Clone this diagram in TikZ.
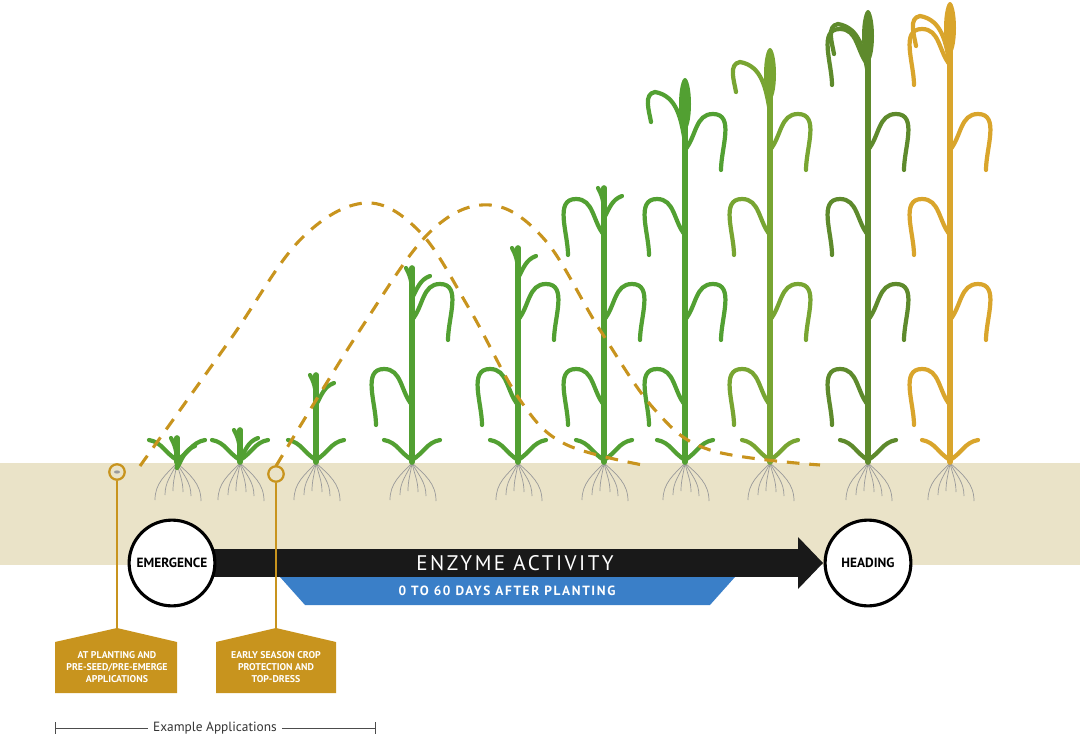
\documentclass[tikz,border=0pt]{standalone}
\usepackage{fontspec}
\setmainfont{PT Sans}
\newfontfamily\spacedfont[LetterSpace=12]{PT Sans}
\usetikzlibrary{calc}
\definecolor{soil}{HTML}{EAE3C8}
\definecolor{gold}{HTML}{C8941E}
\definecolor{wheatgold}{HTML}{D9A52C}
\definecolor{leafgreen}{HTML}{52A032}
\definecolor{lightgreen}{HTML}{78A532}
\definecolor{olive}{HTML}{5E8A2C}
\definecolor{actblue}{HTML}{3A7FC8}
\definecolor{rootgray}{HTML}{9A9A9A}
\tikzset{
  stage/.style={circle,draw=black,line width=2.2pt,fill=white,minimum size=61pt,inner sep=0pt,font=\bfseries\fontsize{9.5}{11}\selectfont},
  tag/.style={draw=gold,line width=1.6pt},
  tagtext/.style={text=white,font=\bfseries\fontsize{7}{8.3}\selectfont,align=center},
  curve/.style={gold,line width=2.2pt,dash pattern=on 9pt off 7pt},
  leaf/.style={line width=3pt,line cap=round}
}
% plant: x, top, colour, head (1/0)
\newcommand\wheat[4]{%
  \foreach \r in {-22,-12,-4,6,14,24}
    \draw[rootgray,line width=0.5pt] ({#1},463) to[out={-90+\r*2},in=90] ({#1+\r},{489+abs(\r)/2});
  \draw[#3,line width=4pt,line cap=round] (#1,462) -- (#1,#2);
  \draw[#3,leaf] (#1,460) to[out=150,in=-10] ({#1-28},440) (#1,460) to[out=30,in=190] ({#1+28},440);
  \foreach \yy [count=\i] in {405,320,...,60}{
    \pgfmathparse{\yy>#2+45 ? 1 : 0}
    \ifnum\pgfmathresult=1
      \pgfmathsetmacro\s{mod(\i,2)==0 ? 1 : -1}
      \draw[#3,leaf] (#1,\yy) to[out={90-\s*40},in={90+\s*90}] ({#1+\s*28},{\yy-36}) to[out={-90+\s*90},in=90] ({#1+\s*36},{\yy+20});
    \fi}
  \ifnum#4=1
    \fill[#3] (#1,{#2+22}) ellipse (6 and 26);
    \draw[#3,leaf] (#1,{#2+60}) to[out=100,in=-10] ({#1-30},{#2+10}) to[out=190,in=100] ({#1-34},{#2+40});
  \else
    \draw[#3,leaf] (#1,{#2+30}) to[out=90,in=-60] ({#1-6},#2) (#1,{#2+30}) to[out=60,in=200] ({#1+18},{#2+8});
  \fi}
\begin{document}
\begin{tikzpicture}[x=0.025cm,y=-0.025cm]
\useasboundingbox (0,0) rectangle (1080,736);
% soil band
\fill[soil] (0,463) rectangle (1080,565);
% plants
\wheat{177}{438}{leafgreen}{0}
\wheat{240}{430}{leafgreen}{0}
\wheat{316}{375}{leafgreen}{0}
\wheat{412}{268}{leafgreen}{0}
\wheat{518}{248}{leafgreen}{0}
\wheat{604}{188}{leafgreen}{0}
\wheat{685}{82}{leafgreen}{1}
\wheat{770}{52}{lightgreen}{1}
\wheat{868}{14}{olive}{1}
\wheat{950}{6}{wheatgold}{1}
% enzyme activity curves
\draw[curve] plot[smooth,tension=0.6] coordinates {(140,466) (230,340) (300,240) (365,203) (420,232) (470,310) (520,400) (565,444) (648,466)};
\draw[curve] plot[smooth,tension=0.6] coordinates {(276,466) (360,330) (430,232) (490,205) (545,240) (600,330) (655,410) (710,450) (820,465)};
% activity arrow
\fill[actblue] (280,577) -- (735,577) -- (710,605) -- (305,605) -- cycle;
\node[text=white,font=\bfseries\fontsize{9.5}{10}\selectfont\spacedfont] (days) at (507,591) {0 TO 60 DAYS AFTER PLANTING};
\fill[black!90] (200,549) rectangle (800,577);
\fill[black!90] (798,537) -- (823,563) -- (798,589) -- cycle;
\node[text=white,font=\fontsize{15}{16}\selectfont\spacedfont] (enzyme) at (515,563) {ENZYME ACTIVITY};
\node[stage] (emergence) at (172,563) {EMERGENCE};
\node[stage] (heading) at (868,563) {HEADING};
% application tags
\node[circle,tag,fill=soil,minimum size=11pt,inner sep=0pt] (plant) at (117,472) {};
\fill[rootgray] (117,472) ellipse (3 and 1.6);
\node[circle,tag,fill=soil,minimum size=11pt,inner sep=0pt] (early) at (276,474) {};
\fill[gold] (55,642) -- (117,628) -- (177,642) -- (177,693) -- (55,693) -- cycle;
\fill[gold] (216,642) -- (276,628) -- (336,642) -- (336,693) -- (216,693) -- cycle;
\coordinate (plantbox) at (117,628);
\coordinate (earlybox) at (276,628);
\draw[gold,line width=1.6pt] (plant) -- (plantbox);
\draw[gold,line width=1.6pt] (early) -- (earlybox);
\node[tagtext] (plantlbl) at (117,667) {AT PLANTING AND\\PRE-SEED/PRE-EMERGE\\APPLICATIONS};
\node[tagtext] (earlylbl) at (276,667) {EARLY SEASON CROP\\PROTECTION AND\\TOP-DRESS};
% bracket
\node[font=\fontsize{9.5}{10}\selectfont,text=black!80] (example) at (215,728) {Example Applications};
\coordinate (bl) at (55,728);
\coordinate (br) at (375,728);
\draw[black!70,line width=0.6pt] (bl) -- (example.west) (example.east) -- (br);
\draw[black!70,line width=0.6pt] ($(bl)+(0,-6)$) -- ($(bl)+(0,6)$) ($(br)+(0,-6)$) -- ($(br)+(0,6)$);
\end{tikzpicture}
\end{document}
